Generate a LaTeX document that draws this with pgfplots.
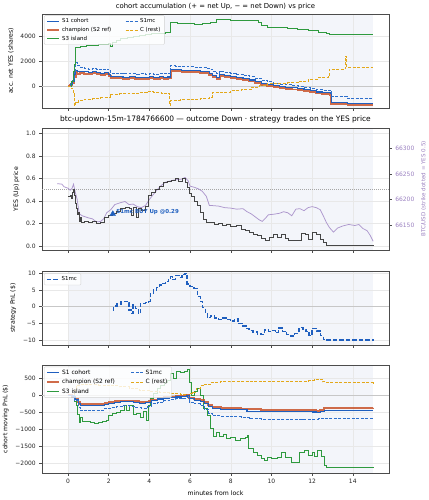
\documentclass[border=0pt]{standalone}
\usepackage{fontspec}
\setmainfont{DejaVu Sans}
\usepackage{pgfplots}
\pgfplotsset{compat=1.18}

\definecolor{cS1}{HTML}{1F5FBF}
\definecolor{cChamp}{HTML}{C8532B}
\definecolor{cS3}{HTML}{2E9A3E}
\definecolor{cMC}{HTML}{2D6FCC}
\definecolor{cC}{HTML}{E3A81A}
\definecolor{cPrice}{HTML}{333333}
\definecolor{cBTC}{HTML}{A58CC8}
\definecolor{cBTCt}{HTML}{9A80C0}
\definecolor{shade}{HTML}{F3F5FA}

\newcommand\fT{\fontsize{6.9}{8.3}\selectfont}
\newcommand\fTT{\fontsize{7.5}{9}\selectfont}
\newcommand\fL{\fontsize{6.2}{7.4}\selectfont}
\newcommand\fK{\fontsize{6}{7.2}\selectfont}
\newcommand\fG{\fontsize{5.5}{6.5}\selectfont}
\newcommand\fR{\fontsize{5.6}{6.6}\selectfont}
\newcommand\fH{\fontsize{5.9}{7}\selectfont}

\pgfplotsset{
  legend image code/.code={\draw[#1] (0bp,0bp) -- (12bp,0bp);},
  base/.style={
    scale only axis, width=347bp, xmin=-1.28, xmax=15.78,
    set layers,
    axis line style={black!70, line width=0.55pt},
    every tick/.style={black!70, line width=0.5pt},
    tick align=outside, major tick length=2.8bp,
    xtick pos=left, ytick pos=left,
    grid=major, major grid style={black!9, line width=0.4pt},
    xtick={0,2,4,6,8,10,12,14},
    ticklabel style={font=\fK, text=black!85},
    label style={font=\fL},
    title style={font=\fT, yshift=-5bp},
    scaled ticks=false,
    /pgf/number format/1000 sep={},
    /pgf/number format/assume math mode=true,
    legend cell align=left,
  },
  shadespan/.style={draw=none, fill=shade, on layer=axis background, forget plot},
}

\begin{document}
\begin{tikzpicture}

% ---------------- Panel 1 ----------------
\begin{axis}[base, at={(42bp,-14bp)}, anchor=north west, height=94bp,
  ymin=-1720, ymax=5730, ytick={0,2000,4000}, yticklabels={0,2000,4000},
  xticklabels={},
  title={cohort accumulation (+ = net Up, − = net Down) vs price},
  ylabel={acc. net YES (shares)},
  legend style={at={(0.006,0.985)}, anchor=north west, font=\fG, draw=black!18,
    fill=white, fill opacity=0.8, text opacity=1, rounded corners=1pt,
    inner xsep=2bp, inner ysep=1bp, row sep=-1bp, legend columns=2,
    /tikz/every even column/.append style={column sep=12bp}},
]
\addplot[shadespan] coordinates {(0,-1720) (15,-1720) (15,5730) (0,5730)} -- cycle;
\addplot[black!22, line width=0.6pt, forget plot] coordinates {(-1.28,0) (15.78,0)};
% champion
\addplot[cChamp, opacity=0.85, line width=1.9pt, const plot, forget plot] coordinates {
(0,0) (0.1,100) (0.2,250) (0.3,700) (0.38,1100) (0.45,1000) (0.6,1050) (0.8,1000) (1.0,980) (1.2,1020) (1.4,980) (1.6,930) (1.8,980) (2.0,830) (2.1,630) (2.4,660) (2.7,600) (3.0,640) (3.3,580) (3.5,610) (3.8,560) (4.0,630) (4.2,580) (4.5,640) (4.7,600) (4.9,620) (5.05,1230) (5.3,1180) (5.6,1160) (5.9,1130) (6.2,1110) (6.5,1080) (6.8,1030) (6.95,930) (7.1,730) (7.3,600) (7.45,830) (7.7,730) (8.0,660) (8.3,580) (8.6,480) (8.9,380) (9.2,280) (9.5,130) (9.8,30) (10.1,-70) (10.4,-150) (10.7,-200) (11.0,-250) (11.3,-320) (11.6,-400) (11.9,-470) (12.2,-570) (12.5,-640) (12.9,-720) (12.95,-1370) (13.7,-1370) (13.75,-1490) (15,-1490)};
% S1 cohort
\addplot[cS1, line width=1.1pt, const plot, forget plot] coordinates {
(0,0) (0.1,150) (0.2,350) (0.3,900) (0.38,1250) (0.45,1150) (0.6,1200) (0.8,1150) (1.0,1100) (1.2,1150) (1.4,1100) (1.6,1050) (1.8,1100) (2.0,950) (2.1,750) (2.4,780) (2.7,720) (3.0,760) (3.3,700) (3.5,730) (3.8,680) (4.0,750) (4.2,700) (4.5,760) (4.7,720) (4.9,740) (5.05,1350) (5.3,1300) (5.6,1280) (5.9,1250) (6.2,1230) (6.5,1200) (6.8,1150) (6.95,1050) (7.1,850) (7.3,720) (7.45,950) (7.7,850) (8.0,780) (8.3,700) (8.6,600) (8.9,500) (9.2,400) (9.5,250) (9.8,150) (10.1,50) (10.4,-30) (10.7,-80) (11.0,-130) (11.3,-200) (11.6,-280) (11.9,-350) (12.2,-450) (12.5,-520) (12.9,-600) (12.95,-1250) (13.7,-1250) (13.75,-1360) (15,-1360)};
% S1mc
\addplot[cMC, line width=0.75pt, dash pattern=on 3bp off 1.5bp, const plot, forget plot] coordinates {
(0,0) (0.1,200) (0.2,500) (0.3,1200) (0.38,1900) (0.45,1650) (0.6,1500) (0.8,1420) (1.0,1380) (1.2,1420) (1.4,1380) (1.6,1330) (1.8,1380) (2.0,1230) (2.1,1030) (2.4,1060) (2.7,1000) (3.0,1040) (3.3,980) (3.5,1010) (3.8,960) (4.0,1030) (4.2,980) (4.5,1040) (4.7,1000) (4.9,1020) (5.05,1650) (5.3,1600) (5.6,1580) (5.9,1550) (6.2,1530) (6.5,1500) (6.8,1450) (6.95,1350) (7.1,1150) (7.3,1000) (7.45,1220) (7.7,1120) (8.0,1050) (8.3,960) (8.6,860) (8.9,750) (9.2,640) (9.5,480) (9.8,370) (10.1,260) (10.4,180) (10.7,120) (11.0,70) (11.3,0) (11.6,-80) (11.9,-150) (12.2,-250) (12.5,-320) (12.9,-400) (12.95,-820) (13.7,-820) (13.75,-980) (15,-980)};
% S3 island
\addplot[cS3, line width=0.9pt, const plot, forget plot] coordinates {
(0,0) (0.15,400) (0.28,1200) (0.33,1700) (0.38,3100) (0.6,3150) (0.9,3200) (1.2,3250) (1.5,3280) (1.8,3350) (2.0,3400) (2.08,3150) (2.2,3500) (2.4,3600) (2.6,3800) (2.9,3850) (3.2,3950) (3.5,4050) (3.8,4100) (4.1,4150) (4.4,4200) (4.8,4250) (5.05,5100) (5.4,5000) (5.8,4950) (6.2,4900) (6.6,4950) (7.0,5050) (7.3,5300) (7.7,5280) (8.0,5250) (8.5,5200) (9.0,5180) (9.35,5100) (9.5,4800) (9.8,4700) (10.3,4650) (10.8,4550) (11.3,4500) (11.8,4420) (12.3,4300) (12.7,4200) (12.85,4100) (15,4100)};
% C (rest)
\addplot[cC, line width=0.75pt, dash pattern=on 3bp off 1.5bp, const plot, forget plot] coordinates {
(0,0) (0.15,-200) (0.25,-600) (0.3,-1500) (0.38,-1250) (0.5,-1100) (0.8,-1000) (1.2,-950) (1.6,-900) (2.05,-850) (2.1,-650) (2.5,-600) (3.0,-550) (3.5,-500) (3.9,-400) (4.2,-450) (4.6,-550) (4.95,-550) (5.0,-1500) (5.05,-1100) (5.5,-1050) (6.0,-1000) (6.5,-950) (6.95,-850) (7.1,-500) (7.5,-450) (8.0,-350) (8.5,-250) (9.0,-50) (9.4,50) (9.8,200) (10.3,250) (10.8,300) (11.3,400) (11.8,550) (12.3,700) (12.8,850) (12.85,1380) (13.6,1400) (13.65,2400) (13.7,1520) (15,1520)};
\addlegendimage{cS1, line width=1.1pt}\addlegendentry{S1 cohort}
\addlegendimage{cMC, line width=0.75pt, dash pattern=on 3bp off 1.5bp}\addlegendentry{S1mc}
\addlegendimage{cChamp, opacity=0.85, line width=1.9pt}\addlegendentry{champion (S2 ref)}
\addlegendimage{cC, line width=0.75pt, dash pattern=on 3bp off 1.5bp}\addlegendentry{C (rest)}
\addlegendimage{cS3, line width=0.9pt}\addlegendentry{S3 island}
\end{axis}

% ---------------- Panel 2 ----------------
\begin{axis}[base, at={(42bp,-128bp)}, anchor=north west, height=122bp,
  ymin=-0.035, ymax=1.047, ytick={0,0.2,0.4,0.6,0.8,1.0},
  yticklabels={0.0,0.2,0.4,0.6,0.8,1.0},
  xticklabels={},
  title={btc-updown-15m-1784766600 — outcome Down · strategy trades on the YES price},
  title style={font=\fTT},
  ylabel={YES (Up) price},
]
\addplot[shadespan] coordinates {(0,-0.035) (15,-0.035) (15,1.047) (0,1.047)} -- cycle;
\addplot[black!35, line width=0.6pt, dash pattern=on 1bp off 1bp, forget plot] coordinates {(-1.28,0.5) (15.78,0.5)};
\end{axis}
\begin{axis}[scale only axis, width=347bp, height=122bp, at={(42bp,-128bp)}, anchor=north west,
  xmin=-1.28, xmax=15.78, ymin=66101, ymax=66340,
  axis x line=none, axis y line*=right,
  axis line style={black!70, line width=0.55pt},
  every tick/.style={black!70, line width=0.5pt},
  tick align=outside, major tick length=2.8bp,
  ytick={66150,66200,66250,66300},
  yticklabel style={font=\fK, text=cBTCt},
  scaled ticks=false, /pgf/number format/1000 sep={},
  /pgf/number format/assume math mode=true,
  ylabel near ticks, yticklabel pos=right,
  ylabel={BTC/USD (strike dotted = YES 0.5)},
  ylabel style={font=\fR, text=cBTCt},
]
\addplot[cBTC, line width=0.75pt, opacity=0.9] coordinates {
(-0.53,66231) (-0.3,66230) (-0.2,66225) (0,66222) (0.1,66218) (0.2,66222) (0.27,66230) (0.35,66215) (0.45,66200) (0.55,66172) (0.7,66168) (1.0,66164) (1.2,66162) (1.4,66156) (1.6,66157) (1.75,66162) (1.9,66174) (2.1,66180) (2.3,66190) (2.6,66194) (2.8,66196) (3.0,66190) (3.2,66191) (3.4,66186) (3.6,66184) (3.8,66188) (4.0,66200) (4.2,66210) (4.4,66220) (4.6,66228) (4.8,66234) (5.0,66236) (5.2,66238) (5.4,66239) (5.6,66240) (5.75,66243) (5.9,66237) (6.0,66226) (6.2,66224) (6.4,66221) (6.6,66216) (6.8,66206) (6.95,66188) (7.1,66188) (7.4,66187) (7.7,66184) (8.0,66183) (8.3,66181) (8.6,66182) (8.8,66176) (9.0,66172) (9.2,66166) (9.4,66160) (9.55,66157) (9.7,66163) (9.85,66170) (10.1,66171) (10.4,66173) (10.6,66176) (10.8,66174) (11.0,66168) (11.2,66181) (11.4,66182) (11.6,66178) (11.8,66184) (12.0,66186) (12.2,66184) (12.4,66180) (12.55,66168) (12.7,66155) (12.85,66145) (13.05,66136) (13.25,66144) (13.5,66148) (13.8,66151) (14.1,66149) (14.3,66151) (14.5,66143) (14.7,66139) (14.85,66130) (15.0,66118)};
\end{axis}
\begin{axis}[scale only axis, width=347bp, height=122bp, at={(42bp,-128bp)}, anchor=north west,
  xmin=-1.28, xmax=15.78, ymin=-0.035, ymax=1.047, hide axis]
\addplot[cPrice, line width=0.85pt, opacity=0.9, const plot] coordinates {
(0,0.44) (0.1,0.45) (0.15,0.42) (0.2,0.48) (0.25,0.5) (0.3,0.45) (0.35,0.38) (0.4,0.33) (0.45,0.28) (0.5,0.3) (0.55,0.22) (0.6,0.25) (0.65,0.21) (0.8,0.22) (1.0,0.21) (1.2,0.22) (1.4,0.2) (1.6,0.21) (1.8,0.25) (2.0,0.27) (2.2,0.29) (2.4,0.31) (2.6,0.33) (2.8,0.34) (3.0,0.33) (3.1,0.27) (3.2,0.34) (3.35,0.25) (3.45,0.33) (3.6,0.32) (3.8,0.35) (3.95,0.45) (4.1,0.48) (4.3,0.5) (4.5,0.53) (4.7,0.56) (4.9,0.57) (5.1,0.58) (5.3,0.6) (5.45,0.57) (5.6,0.6) (5.75,0.56) (5.85,0.52) (5.95,0.47) (6.05,0.44) (6.2,0.4) (6.35,0.36) (6.5,0.3) (6.65,0.24) (6.8,0.21) (7.0,0.21) (7.2,0.19) (7.4,0.2) (7.6,0.18) (7.8,0.19) (8.0,0.17) (8.3,0.18) (8.5,0.15) (8.7,0.14) (8.9,0.12) (9.1,0.1) (9.3,0.09) (9.5,0.07) (9.7,0.05) (9.9,0.08) (10.1,0.1) (10.3,0.08) (10.5,0.1) (10.7,0.07) (10.85,0.05) (11.1,0.05) (11.3,0.05) (11.45,0.11) (11.65,0.1) (11.8,0.06) (12.0,0.12) (12.2,0.1) (12.4,0.06) (12.55,0.03) (12.7,0.01) (14.9,0.01) (15.0,0.0)};
\addplot[only marks, mark=triangle*, mark size=3.2bp, color=cS1] coordinates {(2.2,0.285)};
\node[anchor=west, font=\bfseries\fG, text=cS1, inner sep=1bp] at (axis cs:2.32,0.305) {S1mc BUY Up @0.29};
\end{axis}

% ---------------- Panel 3 ----------------
\begin{axis}[base, at={(42bp,-271bp)}, anchor=north west, height=74bp,
  ymin=-11.5, ymax=10.7, ytick={-10,-5,0,5,10}, yticklabels={−10,−5,0,5,10},
  xticklabels={},
  ylabel={strategy PnL (\$)},
  legend style={at={(0.006,0.97)}, anchor=north west, font=\fG, draw=black!18,
    fill=white, fill opacity=0.8, text opacity=1, rounded corners=1pt,
    inner xsep=2bp, inner ysep=1bp},
]
\addplot[shadespan] coordinates {(0,-11.5) (15,-11.5) (15,10.7) (0,10.7)} -- cycle;
\addplot[black!22, line width=0.6pt, forget plot] coordinates {(-1.28,0) (15.78,0)};
\addplot[cS1, line width=1.3pt, dash pattern=on 4.5bp off 2bp, const plot] coordinates {
(2.2,-1.0) (2.25,0.2) (2.4,0.8) (2.6,1.5) (2.8,1.6) (2.9,1.2) (3.0,-1.0) (3.1,-2.0) (3.2,0.5) (3.3,-0.5) (3.45,-2.0) (3.55,1.0) (3.8,1.2) (3.95,1.5) (4.05,4.0) (4.2,5.0) (4.35,5.8) (4.5,6.5) (4.65,7.0) (4.8,7.5) (4.95,8.5) (5.05,9.0) (5.15,8.2) (5.3,9.4) (5.45,8.8) (5.6,9.6) (5.75,10.0) (5.85,6.8) (6.0,6.0) (6.2,5.5) (6.35,3.0) (6.5,1.5) (6.6,-0.3) (6.75,-2.0) (6.85,-3.3) (7.0,-2.8) (7.2,-3.4) (7.4,-3.8) (7.6,-3.4) (7.8,-3.9) (8.0,-4.3) (8.2,-3.6) (8.35,-5.0) (8.55,-5.8) (8.75,-6.6) (8.9,-7.2) (9.1,-7.6) (9.3,-8.2) (9.5,-8.4) (9.65,-7.0) (9.85,-7.5) (10.0,-7.2) (10.2,-7.8) (10.35,-6.4) (10.55,-7.4) (10.75,-8.3) (10.95,-8.8) (11.15,-8.0) (11.35,-6.3) (11.55,-6.8) (11.7,-7.5) (11.85,-8.6) (12.0,-6.5) (12.2,-7.3) (12.4,-8.7) (12.55,-9.8) (12.7,-10.0) (14.9,-10.0) (15,-10.4)};
\addlegendentry{S1mc}
\end{axis}

% ---------------- Panel 4 ----------------
\begin{axis}[base, at={(42bp,-365bp)}, anchor=north west, height=108bp,
  ymin=-2285, ymax=891, ytick={-2000,-1500,-1000,-500,0,500},
  yticklabels={−2000,−1500,−1000,−500,0,500},
  ylabel={cohort moving PnL (\$)},
  xlabel={minutes from lock},
  legend style={at={(0.006,0.985)}, anchor=north west, font=\fH, draw=black!18,
    fill=white, fill opacity=0.8, text opacity=1, rounded corners=1pt,
    inner xsep=2bp, inner ysep=1bp, row sep=-0.5bp, legend columns=2,
    /tikz/every even column/.append style={column sep=14bp}},
]
\addplot[shadespan] coordinates {(0,-2285) (15,-2285) (15,891) (0,891)} -- cycle;
\addplot[black!22, line width=0.6pt, forget plot] coordinates {(-1.28,0) (15.78,0)};
% S3 island
\addplot[cS3, line width=0.9pt, const plot, forget plot] coordinates {
(0,0) (0.15,-30) (0.3,-180) (0.4,-310) (0.48,-550) (0.55,-800) (0.6,-650) (0.7,-780) (0.9,-760) (1.1,-790) (1.3,-820) (1.5,-800) (1.7,-780) (1.9,-750) (2.0,-600) (2.2,-540) (2.4,-500) (2.6,-440) (2.75,-300) (2.85,-440) (3.0,-300) (3.2,-560) (3.35,-520) (3.55,-640) (3.7,-480) (3.85,-750) (3.95,-300) (4.05,-100) (4.2,50) (4.4,190) (4.55,290) (4.75,380) (4.9,440) (5.05,640) (5.2,490) (5.35,700) (5.55,680) (5.7,700) (5.85,760) (5.95,390) (6.05,0) (6.2,100) (6.35,200) (6.5,0) (6.65,-390) (6.85,-590) (7.0,-980) (7.15,-1200) (7.3,-1100) (7.45,-1200) (7.65,-1150) (7.8,-1280) (8.0,-1250) (8.25,-1320) (8.5,-1280) (8.7,-1230) (8.8,-1180) (8.85,-1570) (9.1,-1670) (9.3,-1760) (9.5,-1860) (9.65,-1910) (9.8,-1820) (10.0,-1860) (10.3,-1820) (10.5,-1670) (10.7,-1820) (11.0,-1960) (11.25,-1960) (11.4,-1670) (11.6,-1620) (11.8,-1760) (12.0,-1670) (12.1,-1810) (12.25,-1620) (12.45,-1810) (12.6,-2060) (12.7,-2110) (14.95,-2110) (15.0,-2150)};
% C (rest)
\addplot[cC, line width=0.75pt, dash pattern=on 3bp off 1.5bp, const plot, forget plot] coordinates {
(0,0) (0.15,-50) (0.3,150) (0.4,300) (0.6,320) (1.0,310) (1.5,300) (2.0,280) (2.5,250) (3.0,200) (3.5,150) (4.0,110) (4.5,80) (5.0,50) (5.5,30) (5.8,10) (5.95,50) (6.1,100) (6.3,200) (6.5,280) (6.7,320) (7.0,380) (7.5,400) (8.0,410) (9.0,420) (10.0,420) (11.0,420) (11.8,430) (12.1,460) (12.3,470) (12.5,400) (12.7,370) (15,350)};
% champion
\addplot[cChamp, opacity=0.85, line width=1.9pt, const plot, forget plot] coordinates {
(0,0) (0.2,-40) (0.35,-100) (0.5,-210) (0.6,-250) (0.9,-245) (1.2,-255) (1.5,-245) (1.8,-220) (2.0,-195) (2.3,-180) (2.6,-165) (2.9,-155) (3.2,-175) (3.5,-210) (3.8,-195) (4.0,-175) (4.1,-130) (4.4,-90) (4.7,-60) (5.0,-40) (5.3,-30) (5.6,-10) (5.85,5) (5.95,-80) (6.2,-115) (6.5,-140) (6.7,-210) (6.9,-290) (7.1,-350) (7.5,-370) (8.0,-380) (8.5,-390) (8.8,-410) (9.5,-420) (10.5,-420) (11.5,-420) (12.0,-430) (12.2,-470) (12.4,-420) (12.6,-380) (15,-375)};
% S1 cohort
\addplot[cS1, line width=1.1pt, const plot, forget plot] coordinates {
(0,0) (0.2,-50) (0.35,-120) (0.5,-250) (0.6,-300) (0.9,-290) (1.2,-300) (1.5,-290) (1.8,-260) (2.0,-230) (2.3,-210) (2.6,-190) (2.9,-180) (3.2,-200) (3.5,-240) (3.8,-220) (4.0,-200) (4.1,-150) (4.4,-110) (4.7,-80) (5.0,-60) (5.3,-50) (5.6,-30) (5.85,-10) (5.95,-100) (6.2,-140) (6.5,-170) (6.7,-250) (6.9,-330) (7.1,-390) (7.5,-410) (8.0,-420) (8.5,-430) (8.8,-470) (9.5,-480) (10.5,-480) (11.5,-480) (12.0,-490) (12.2,-510) (12.4,-470) (12.6,-440) (15,-440)};
% S1mc
\addplot[cMC, line width=0.75pt, dash pattern=on 3bp off 1.5bp, const plot, forget plot] coordinates {
(0,0) (0.3,-150) (0.5,-350) (0.6,-450) (0.9,-430) (1.2,-440) (1.5,-430) (1.8,-380) (2.1,-350) (2.4,-320) (2.7,-300) (3.0,-320) (3.3,-350) (3.6,-370) (3.9,-330) (4.1,-250) (4.4,-200) (4.7,-160) (5.0,-120) (5.3,-100) (5.6,-80) (5.85,-50) (5.95,-200) (6.2,-250) (6.5,-300) (6.7,-400) (6.9,-520) (7.1,-600) (7.5,-620) (8.0,-630) (8.5,-650) (8.9,-690) (9.5,-710) (10.5,-710) (11.5,-700) (12.3,-690) (12.6,-670) (15,-670)};
\addlegendimage{cS1, line width=1.1pt}\addlegendentry{S1 cohort}
\addlegendimage{cMC, line width=0.75pt, dash pattern=on 3bp off 1.5bp}\addlegendentry{S1mc}
\addlegendimage{cChamp, opacity=0.85, line width=1.9pt}\addlegendentry{champion (S2 ref)}
\addlegendimage{cC, line width=0.75pt, dash pattern=on 3bp off 1.5bp}\addlegendentry{C (rest)}
\addlegendimage{cS3, line width=0.9pt}\addlegendentry{S3 island}
\end{axis}

\pgfresetboundingbox
\path (0,0) rectangle (429bp,-500bp);
\end{tikzpicture}
\end{document}
